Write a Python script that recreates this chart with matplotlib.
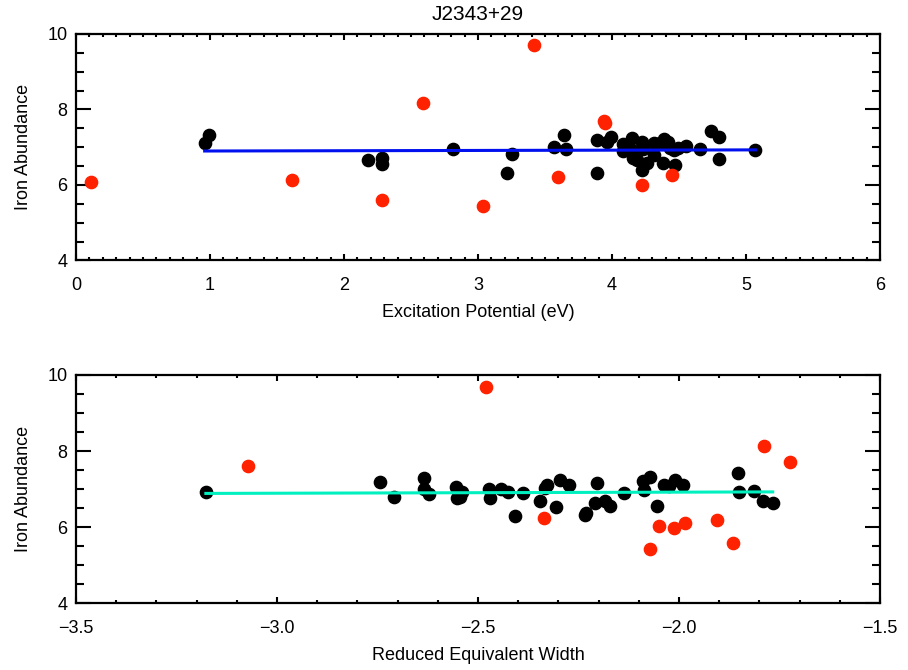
import matplotlib

matplotlib.use("Agg")
import matplotlib.pyplot as plt
from matplotlib.ticker import MultipleLocator

# --- top panel: excitation potential (eV) vs abundance
ep_good = [0.99, 0.96, 2.18, 2.28, 2.28, 2.81, 3.25, 3.22, 3.57, 3.64, 3.66, 3.89, 3.89,
           3.96, 3.99, 4.08, 4.08, 4.15, 4.15, 4.16, 4.19, 4.22, 4.23, 4.22, 4.26, 4.31,
           4.31, 4.36, 4.38, 4.39, 4.42, 4.43, 4.46, 4.47, 4.49, 4.55, 4.66, 4.74, 4.80,
           4.80, 5.07]
ab_good_ep = [7.33, 7.10, 6.66, 6.71, 6.56, 6.96, 6.82, 6.33, 7.00, 7.33, 6.96, 6.31, 7.20,
              7.13, 7.28, 7.08, 6.91, 7.25, 6.93, 6.71, 6.66, 7.15, 6.95, 6.40, 6.57, 7.10,
              6.79, 7.10, 6.59, 7.21, 7.15, 6.97, 6.93, 6.52, 6.97, 7.03, 6.96, 7.44, 7.26,
              6.70, 6.92]
ep_bad = [0.11, 1.61, 2.28, 2.59, 3.04, 3.42, 3.60, 3.94, 3.95, 4.22, 4.45]
ab_bad_ep = [6.08, 6.12, 5.60, 8.18, 5.44, 9.71, 6.20, 7.70, 7.63, 6.00, 6.26]
fit_ep_x = [0.96, 5.07]
fit_ep_y = [6.90, 6.93]

# --- bottom panel: reduced equivalent width vs abundance
rew_good = [-3.177, -2.744, -2.710, -2.634, -2.635, -2.621, -2.555, -2.553, -2.541, -2.545,
            -2.472, -2.470, -2.444, -2.425, -2.408, -2.389, -2.346, -2.333, -2.328, -2.306,
            -2.296, -2.273, -2.234, -2.231, -2.209, -2.203, -2.184, -2.172, -2.137, -2.089,
            -2.087, -2.071, -2.054, -2.037, -2.024, -2.010, -1.991, -1.853, -1.850, -1.813,
            -1.792, -1.767]
ab_good_rew = [6.94, 7.18, 6.79, 7.30, 7.00, 6.87, 7.05, 6.76, 6.94, 6.80,
               7.01, 6.78, 7.01, 6.94, 6.30, 6.89, 6.70, 7.02, 7.11, 6.53,
               7.24, 7.11, 6.32, 6.38, 6.65, 7.17, 6.70, 6.56, 6.89, 7.22,
               6.98, 7.31, 6.56, 7.11, 7.09, 7.24, 7.11, 7.42, 6.94, 6.96,
               6.70, 6.65]
rew_bad = [-3.071, -2.480, -2.335, -2.071, -2.051, -2.012, -1.985, -1.906, -1.866, -1.789, -1.724]
ab_bad_rew = [7.61, 9.68, 6.24, 5.42, 6.03, 5.99, 6.11, 6.19, 5.60, 8.14, 7.72]
fit_rew_x = [-3.177, -1.767]
fit_rew_y = [6.89, 6.93]

plt.rcParams["font.family"] = ["Liberation Sans", "DejaVu Sans"]
plt.rcParams["font.size"] = 13

fig = plt.figure(figsize=(9.08, 6.70), dpi=100)
ax1 = fig.add_axes([0.0837, 0.6112, 0.8855, 0.3381])
ax2 = fig.add_axes([0.0837, 0.0993, 0.8855, 0.3410])


def style(ax, xmaj, xmin):
    ax.set_ylim(4, 10)
    ax.yaxis.set_major_locator(MultipleLocator(2))
    ax.yaxis.set_minor_locator(MultipleLocator(0.5))
    ax.xaxis.set_major_locator(MultipleLocator(xmaj))
    ax.xaxis.set_minor_locator(MultipleLocator(xmin))
    for s in ax.spines.values():
        s.set_linewidth(1.6)
    ax.tick_params(axis="both", which="both", direction="in", top=True, right=True, width=1.5)
    ax.tick_params(axis="y", which="major", length=11, pad=6)
    ax.tick_params(axis="y", which="minor", length=6)
    ax.tick_params(axis="x", which="major", length=4, pad=12)
    ax.tick_params(axis="x", which="minor", length=2)
    ax.set_ylabel("Iron Abundance", labelpad=11)


ax1.scatter(ep_good, ab_good_ep, s=78, color="black", zorder=2)
ax1.scatter(ep_bad, ab_bad_ep, s=78, color="#ff2200", zorder=2)
ax1.plot(fit_ep_x, fit_ep_y, color="#0010ee", lw=2.2, zorder=3)
ax1.set_xlim(0, 6)
style(ax1, 1, 0.1)
ax1.set_xlabel("Excitation Potential (eV)", labelpad=7)
ax1.set_title("J2343+29", fontsize=15, pad=10)

ax2.scatter(rew_good, ab_good_rew, s=78, color="black", zorder=2)
ax2.scatter(rew_bad, ab_bad_rew, s=78, color="#ff2200", zorder=2)
ax2.plot(fit_rew_x, fit_rew_y, color="#00f0c0", lw=2.2, zorder=3)
ax2.set_xlim(-3.5, -1.5)
style(ax2, 0.5, 0.1)
ax2.xaxis.set_major_formatter(matplotlib.ticker.FuncFormatter(lambda v, p: f"{v:.1f}".replace("-", "\u2212")))
ax2.set_xlabel("Reduced Equivalent Width", labelpad=7)

fig.savefig("out.png", dpi=100)
